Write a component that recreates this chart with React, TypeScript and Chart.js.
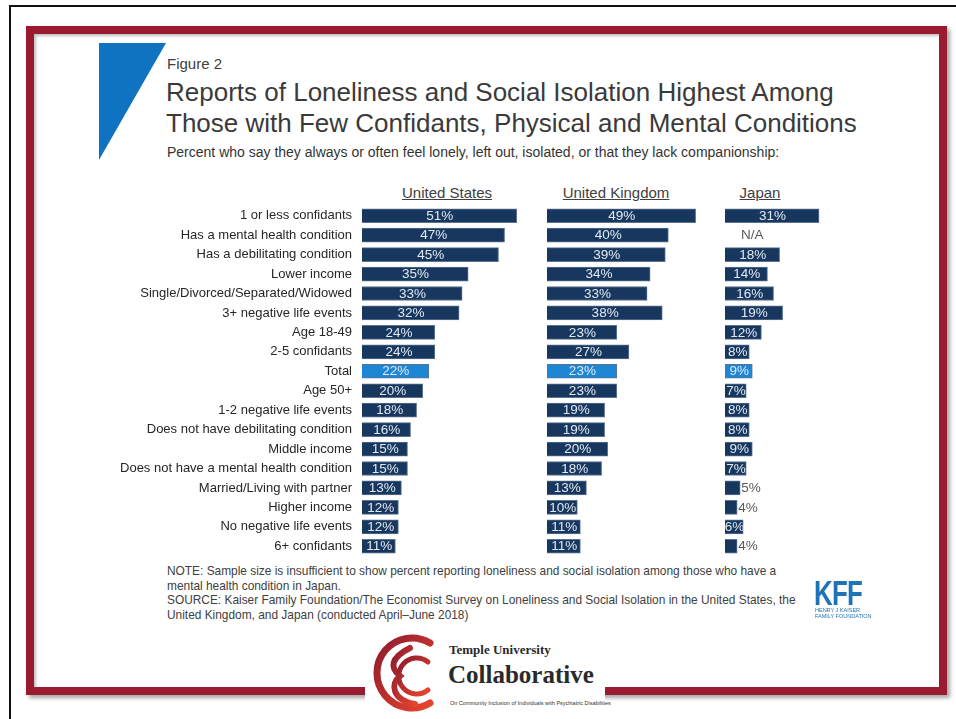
import React, { useEffect, useRef } from "react";
import { Chart, registerables } from "chart.js";

Chart.register(...registerables);

const categories = [
  "1 or less confidants",
  "Has a mental health condition",
  "Has a debilitating condition",
  "Lower income",
  "Single/Divorced/Separated/Widowed",
  "3+ negative life events",
  "Age 18-49",
  "2-5 confidants",
  "Total",
  "Age 50+",
  "1-2 negative life events",
  "Does not have debilitating condition",
  "Middle income",
  "Does not have a mental health condition",
  "Married/Living with partner",
  "Higher income",
  "No negative life events",
  "6+ confidants",
];

const usValues = [51, 47, 45, 35, 33, 32, 24, 24, 22, 20, 18, 16, 15, 15, 13, 12, 12, 11];
const ukValues = [49, 40, 39, 34, 33, 38, 23, 27, 23, 23, 19, 19, 20, 18, 13, 10, 11, 11];
const japanValues: (number | null)[] = [31, null, 18, 14, 16, 19, 12, 8, 9, 7, 8, 8, 9, 7, 5, 4, 6, 4];

const countries = ["United States", "United Kingdom", "Japan"];

const NAVY = "#17375E";
const TOTAL_BLUE = "#1D86D5";
const FONT = '"Liberation Sans", Arial, Helvetica, sans-serif';

const labelPlugin = {
  id: "barLabels",
  afterDatasetsDraw(chart: any) {
    const { ctx } = chart;
    const xs = chart.scales.x;
    const ys = chart.scales.y;
    const vals = chart.data.datasets[0].data as (number | null)[];
    ctx.save();
    ctx.font = `13.5px ${FONT}`;
    ctx.textBaseline = "middle";
    vals.forEach((v, i) => {
      const yc = ys.getPixelForValue(i) + 0.5;
      if (v == null) {
        ctx.fillStyle = "#595959";
        ctx.textAlign = "center";
        ctx.fillText("N/A", xs.getPixelForValue(9), yc);
        return;
      }
      const x0 = xs.getPixelForValue(0);
      const x1 = xs.getPixelForValue(v);
      if (v >= 6) {
        ctx.fillStyle = "#E1E9F3";
        ctx.textAlign = "center";
        ctx.fillText(`${v}%`, (x0 + x1) / 2 + 0.5, yc);
      } else {
        ctx.fillStyle = "#595959";
        ctx.textAlign = "left";
        ctx.fillText(`${v}%`, x1 + 1, yc);
      }
    });
    ctx.restore();
  },
};

function BarPanel(props: {
  values: (number | null)[];
  showLabels: boolean;
  left: number;
  width: number;
}) {
  const ref = useRef<HTMLCanvasElement>(null);
  useEffect(() => {
    if (!ref.current) return;
    const colors = categories.map((c) => (c === "Total" ? TOTAL_BLUE : NAVY));
    const chart = new Chart(ref.current, {
      type: "bar",
      data: {
        labels: categories,
        datasets: [
          {
            data: props.values as any,
            backgroundColor: colors,
            borderColor: "#5B7291",
            borderWidth: 1,
            barThickness: 14,
          },
        ],
      },
      options: {
        indexAxis: "y",
        animation: false,
        responsive: false,
        devicePixelRatio: 1,
        layout: { padding: 0 },
        plugins: {
          legend: { display: false },
          tooltip: { enabled: false },
        },
        scales: {
          x: { display: false, min: 0, max: 60 },
          y: {
            display: props.showLabels,
            grid: { display: false, drawTicks: false },
            border: { display: false },
            ticks: {
              padding: 10,
              color: "#262626",
              font: { family: FONT, size: 13 },
            },
            afterFit: (scale: any) => {
              if (props.showLabels) {
                scale.width = 262;
                scale.paddingTop = 0;
                scale.paddingBottom = 0;
              }
            },
          },
        },
      },
      plugins: [labelPlugin],
    });
    return () => chart.destroy();
  }, []);
  return (
    <canvas
      ref={ref}
      width={props.width}
      height={350}
      style={{ position: "absolute", left: props.left, top: 206, width: props.width, height: 350 }}
    />
  );
}

const headerCenters = [447, 616, 760];

export default function App() {
  const abs = (s: React.CSSProperties): React.CSSProperties => ({ position: "absolute", whiteSpace: "nowrap", ...s });
  return (
    <div
      style={{
        position: "fixed",
        left: 0,
        top: 0,
        width: 956,
        height: 719,
        background: "#ffffff",
        overflow: "hidden",
        fontFamily: FONT,
      }}
    >
      {/* outer black lines */}
      <div style={abs({ left: 9, top: 5, width: 947, height: 2, background: "#111" })} />
      <div style={abs({ left: 9, top: 5, width: 2, height: 714, background: "#111" })} />
      {/* red frame */}
      <div
        style={abs({
          left: 26,
          top: 26,
          width: 921,
          height: 669,
          boxSizing: "border-box",
          border: "8px solid #9A1B2F",
          boxShadow: "3px 3px 4px rgba(0,0,0,0.35), inset 2px 2px 3px rgba(0,0,0,0.25)",
        })}
      />
      {/* blue triangle */}
      <svg style={abs({ left: 99, top: 43 })} width={68} height={118}>
        <polygon points="0,0 67,0 0,117" fill="#0F73C1" />
      </svg>
      {/* titles */}
      <div style={abs({ left: 167, top: 55, fontSize: 15, lineHeight: "18px", color: "#404040" })}>Figure 2</div>
      <div style={abs({ left: 166, top: 77, fontSize: 26, lineHeight: "30.6px", color: "#3A3A3A" })}>
        Reports of Loneliness and Social Isolation Highest Among
        <br />
        Those with Few Confidants, Physical and Mental Conditions
      </div>
      <div style={abs({ left: 167, top: 144, fontSize: 14, lineHeight: "17px", color: "#333" })}>
        Percent who say they always or often feel lonely, left out, isolated, or that they lack companionship:
      </div>
      {/* column headers */}
      {countries.map((c, i) => (
        <div
          key={c}
          style={abs({
            left: headerCenters[i] - 100,
            width: 200,
            textAlign: "center",
            top: 184,
            fontSize: 15,
            lineHeight: "18px",
            color: "#404040",
            textDecoration: "underline",
          })}
        >
          {c}
        </div>
      ))}
      <BarPanel values={usValues} showLabels={true} left={100} width={444} />
      <BarPanel values={ukValues} showLabels={false} left={547} width={182} />
      <BarPanel values={japanValues} showLabels={false} left={725} width={182} />
      {/* notes */}
      <div style={abs({ left: 167, top: 564, fontSize: 11.9, lineHeight: "14.7px", color: "#404040" })}>
        NOTE: Sample size is insufficient to show percent reporting loneliness and social isolation among those who have a
        <br />
        mental health condition in Japan.
        <br />
        SOURCE: Kaiser Family Foundation/The Economist Survey on Loneliness and Social Isolation in the United States, the
        <br />
        United Kingdom, and Japan (conducted April–June 2018)
      </div>
      {/* KFF logo */}
      <div
        style={abs({
          left: 814,
          top: 576,
          fontSize: 35,
          fontWeight: 700,
          lineHeight: "34px",
          color: "#1F74B8",
          transform: "scaleX(0.74)",
          transformOrigin: "left top",
          letterSpacing: -1,
        })}
      >
        KFF
      </div>
      <div style={abs({ left: 815, top: 607, fontSize: 5.5, lineHeight: "6px", color: "#1F74B8" })}>
        HENRY J KAISER
        <br />
        FAMILY FOUNDATION
      </div>
      {/* Temple logo area */}
      <div style={abs({ left: 365, top: 676, width: 240, height: 43, background: "#fff" })} />
      <svg style={abs({ left: 370, top: 628 })} width={80} height={90}>
        <defs>
          <linearGradient id="tg" x1="0" y1="0" x2="1" y2="1">
            <stop offset="0" stopColor="#8E1B2E" />
            <stop offset="1" stopColor="#E8452E" />
          </linearGradient>
        </defs>
        <path d="M60,15 A35,35 0 1 0 60,75" fill="none" stroke="url(#tg)" strokeWidth={7} strokeLinecap="round" />
        <path d="M40,20 C20,30 20,40 30,48 C20,56 22,72 45,76" fill="none" stroke="url(#tg)" strokeWidth={6} strokeLinecap="round" />
        <path d="M58,34 A18,18 0 1 0 58,62" fill="none" stroke="url(#tg)" strokeWidth={5} strokeLinecap="round" />
      </svg>
      <div
        style={abs({
          left: 449,
          top: 642,
          fontSize: 13,
          lineHeight: "16px",
          fontWeight: 700,
          color: "#2A2A2A",
          fontFamily: '"Liberation Serif", "DejaVu Serif", serif',
        })}
      >
        Temple University
      </div>
      <div
        style={abs({
          left: 448,
          top: 660,
          fontSize: 25,
          lineHeight: "30px",
          fontWeight: 700,
          color: "#2A2A2A",
          fontFamily: '"Liberation Serif", "DejaVu Serif", serif',
        })}
      >
        Collaborative
      </div>
      <div style={abs({ left: 450, top: 700, fontSize: 5.5, lineHeight: "7px", color: "#333" })}>
        On Community Inclusion of Individuals with Psychiatric Disabilities
      </div>
    </div>
  );
}
